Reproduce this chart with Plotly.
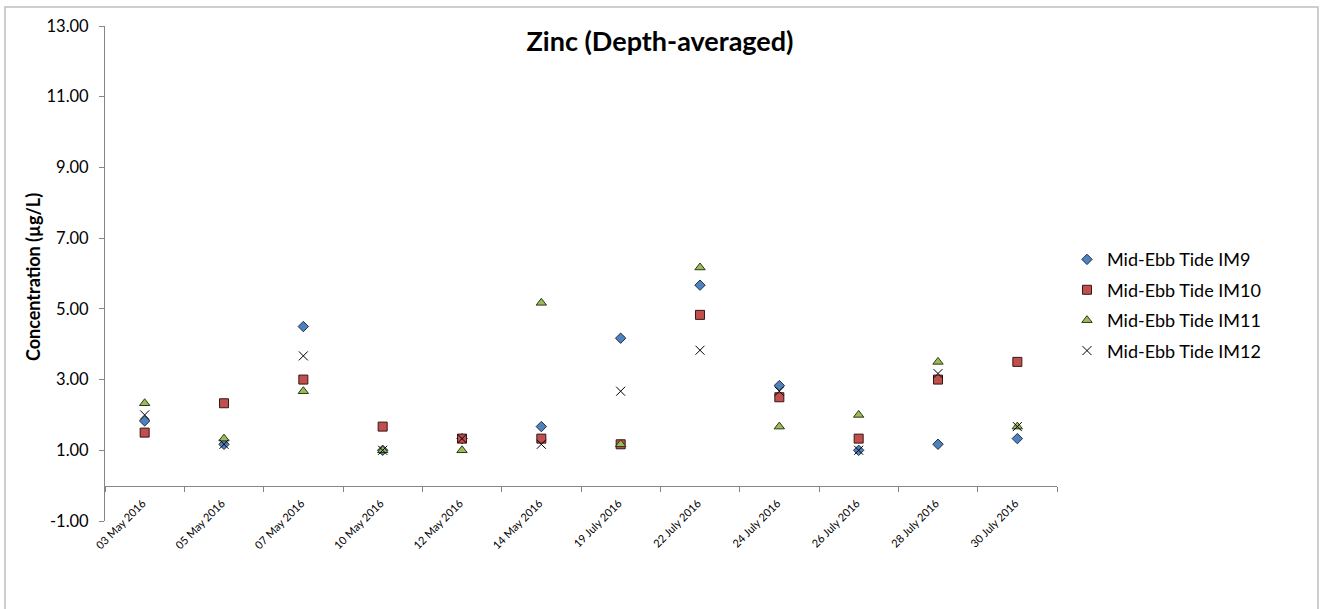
import plotly.graph_objects as go

categories = ["03 May 2016", "05 May 2016", "07 May 2016", "10 May 2016", "12 May 2016",
              "14 May 2016", "19 July 2016", "22 July 2016", "24 July 2016", "26 July 2016",
              "28 July 2016", "30 July 2016"]

im9 = [1.83, 1.17, 4.50, 1.00, 1.33, 1.67, 4.17, 5.67, 2.83, 1.00, 1.17, 1.33]
im10 = [1.50, 2.33, 3.00, 1.67, 1.33, 1.33, 1.17, 4.83, 2.50, 1.33, 3.00, 3.50]
im11 = [2.33, 1.33, 2.67, 1.00, 1.00, 5.17, 1.17, 6.17, 1.67, 2.00, 3.50, 1.67]
im12 = [2.00, 1.17, 3.67, 1.00, 1.33, 1.17, 2.67, 3.83, 2.67, 1.00, 3.17, 1.67]

y_ticks = [-1, 1, 3, 5, 7, 9, 11, 13]
y_tick_labels = ["-1.00", "1.00", "3.00", "5.00", "7.00", "9.00", "11.00", "13.00"]

FONT = "Lato"
series = [
    ("Mid-Ebb Tide IM9", im9, dict(symbol="diamond", size=8, color="#4F81BD", line=dict(color="#1F2F45", width=1))),
    ("Mid-Ebb Tide IM10", im10, dict(symbol="square", size=9, color="#C0504D", line=dict(color="#3A1514", width=1))),
    ("Mid-Ebb Tide IM11", im11, dict(symbol="triangle-up", size=9, color="#9BBB59", line=dict(color="#2C3A14", width=1))),
    ("Mid-Ebb Tide IM12", im12, dict(symbol="x-thin", size=9, color="#000000", line=dict(color="#000000", width=1))),
]

fig = go.Figure()
for i, (name, vals, mk) in enumerate(series):
    fig.add_trace(go.Scatter(x=categories, y=vals, mode="markers", name=name,
                             marker=mk, legendgroup=f"g{i}"))

fig.update_layout(
    width=1320, height=609,
    margin=dict(l=105, r=263, t=26, b=88),
    paper_bgcolor="white", plot_bgcolor="white",
    font=dict(family=FONT, color="#000000"),
    title=dict(text="<b>Zinc (Depth-averaged)</b>", x=0.5, xref="container", xanchor="center",
               y=1 - 42 / 609, yref="container", yanchor="middle",
               font=dict(size=27, family=FONT, color="#000000")),
    showlegend=True,
    legend=dict(x=1.0105, xanchor="left", y=0.436, yanchor="middle",
                font=dict(size=18, family=FONT, color="#000000"),
                tracegroupgap=4, traceorder="grouped",
                bgcolor="rgba(0,0,0,0)"),
    xaxis=dict(type="category", categoryorder="array", categoryarray=categories,
               range=[-0.5, len(categories) - 0.5],
               anchor="free", position=1 / 14,
               showline=True, linecolor="#868686", linewidth=1,
               ticks="outside", tickson="boundaries", ticklen=5, tickcolor="#868686",
               tickangle=-45, tickfont=dict(size=11, family=FONT, color="#000000"),
               ticklabelshift=-2, ticklabelstandoff=6,
               showgrid=False, zeroline=False),
    yaxis=dict(range=[-1, 13], tickvals=y_ticks, ticktext=y_tick_labels,
               showline=True, linecolor="#868686", linewidth=1,
               ticks="outside", ticklen=5, tickcolor="#868686",
               tickfont=dict(size=16.5, family=FONT, color="#000000"),
               ticklabelstandoff=7,
               showgrid=False, zeroline=False),
    annotations=[dict(text="<b>Concentration (µg/L)</b>", xref="paper", yref="paper",
                      x=(33 - 105) / 952, y=(521 - 277) / 495, xanchor="center", yanchor="middle",
                      textangle=-90, showarrow=False,
                      font=dict(size=18, family=FONT, color="#000000"))],
    shapes=[dict(type="rect", xref="paper", yref="paper",
                 x0=(5 - 105) / 952, x1=(1318 - 105) / 952,
                 y0=(521 - 640) / 495, y1=(521 - 7) / 495,
                 line=dict(color="#BFBFBF", width=1.5), fillcolor="rgba(0,0,0,0)", layer="below")],
)

fig.write_html("out.html", config={"displayModeBar": False},
               post_script="document.body.style.margin='0';")
